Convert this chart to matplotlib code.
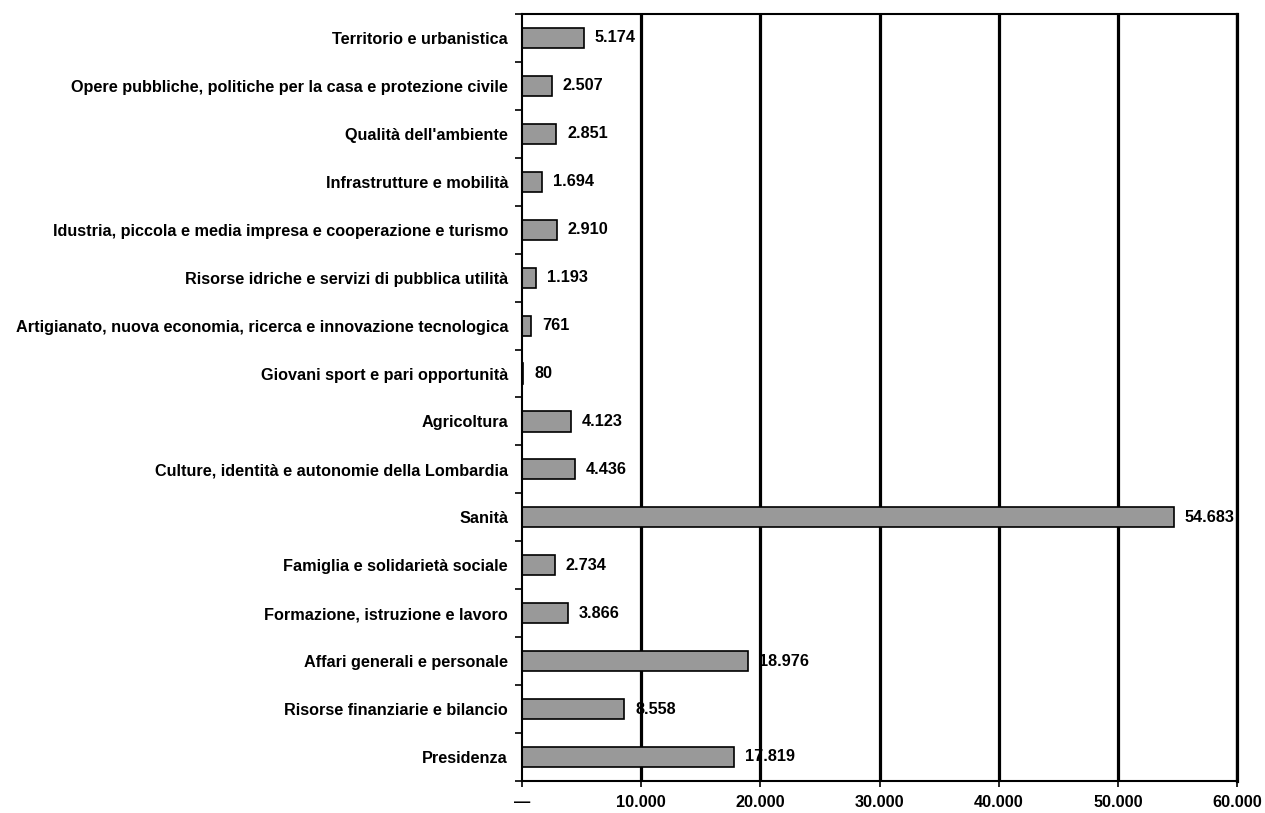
import matplotlib

matplotlib.use("Agg")
import matplotlib.pyplot as plt
from matplotlib.ticker import FixedLocator, FuncFormatter

# Valori di spesa per area (dal basso verso l'alto)
categorie = [
    "Presidenza",
    "Risorse finanziarie e bilancio",
    "Affari generali e personale",
    "Formazione, istruzione e lavoro",
    "Famiglia e solidarietà sociale",
    "Sanità",
    "Culture, identità e autonomie della Lombardia",
    "Agricoltura",
    "Giovani sport e pari opportunità",
    "Artigianato, nuova economia, ricerca e innovazione tecnologica",
    "Risorse idriche e servizi di pubblica utilità",
    "Idustria, piccola e media impresa e cooperazione e turismo",
    "Infrastrutture e mobilità",
    "Qualità dell'ambiente",
    "Opere pubbliche, politiche per la casa e protezione civile",
    "Territorio e urbanistica",
]
valori = [17819, 8558, 18976, 3866, 2734, 54683, 4436, 4123,
          80, 761, 1193, 2910, 1694, 2851, 2507, 5174]
x_ticks = [0, 10000, 20000, 30000, 40000, 50000, 60000]

BAR = "#999999"
FONT = "Liberation Sans"
FS = 11.7


def fmt_it(v):
    return f"{v:,.0f}".replace(",", ".")


plt.rcParams["font.family"] = FONT
plt.rcParams["font.weight"] = "bold"

fig = plt.figure(figsize=(12.65, 8.13), dpi=100)
ax = fig.add_axes([0.4126, 0.0394, 0.978 - 0.4126, 0.9828 - 0.0394])

y = list(range(len(categorie)))
ax.barh(y, valori, height=0.42, color=BAR, edgecolor="black",
        linewidth=1.2, zorder=2)

for yi, v in zip(y, valori):
    ax.annotate(fmt_it(v), (v, yi), xytext=(8, 0), textcoords="offset points",
                va="center", ha="left", fontsize=FS, fontweight="bold",
                zorder=0.5, annotation_clip=False)

ax.set_xlim(0, 60000)
ax.set_ylim(-0.5, len(categorie) - 0.5)

# gridlines verticali spesse
for xv in x_ticks[1:]:
    ax.axvline(xv, color="black", linewidth=2.3, zorder=1)

ax.xaxis.set_major_locator(FixedLocator(x_ticks))
ax.xaxis.set_major_formatter(
    FuncFormatter(lambda v, p: "—" if v == 0 else fmt_it(v)))
ax.tick_params(axis="x", direction="out", length=4, width=1.2, pad=6,
               labelsize=FS)

ax.set_yticks(y)
ax.set_yticklabels(categorie)
ax.yaxis.set_minor_locator(FixedLocator([i - 0.5 for i in range(len(categorie) + 1)]))
ax.tick_params(axis="y", which="major", length=0, pad=10, labelsize=FS)
ax.tick_params(axis="y", which="minor", direction="out", length=5, width=1.2)

for lab in ax.get_xticklabels() + ax.get_yticklabels():
    lab.set_fontweight("bold")

for s in ["left", "bottom", "top", "right"]:
    ax.spines[s].set_linewidth(1.5)
ax.spines["right"].set_linewidth(2.3)

fig.savefig("out.png", dpi=100, facecolor="white")
